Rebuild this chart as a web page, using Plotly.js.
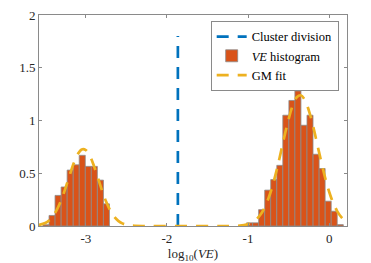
<!DOCTYPE html>
<html>
<head>
<meta charset="utf-8">
<script src="https://cdn.plot.ly/plotly-3.0.1.min.js"></script>
<style>html,body{margin:0;padding:0;background:#fff;}#chart{width:371px;height:263px;}</style>
</head>
<body>
<div id="chart"></div>
<script>
// Histogram bins (centers in log10(VE)) and densities
const binWidth = 0.0745;
const leftBinCenters = [-3.491, -3.416, -3.342, -3.267, -3.193, -3.118, -3.044, -2.969, -2.895, -2.820, -2.746];
const leftBinHeights = [0.012, 0.10, 0.29, 0.37, 0.53, 0.58, 0.67, 0.565, 0.565, 0.435, 0.21];
const rightBinCenters = [-0.981, -0.906, -0.832, -0.757, -0.683, -0.608, -0.534, -0.459, -0.385, -0.310, -0.236, -0.161, -0.087, -0.012, 0.062, 0.137];
const rightBinHeights = [0.03, 0.03, 0.155, 0.34, 0.44, 0.575, 1.05, 1.19, 1.28, 0.955, 1.05, 0.68, 0.545, 0.235, 0.14, 0.013];

// GM fit curve points
const gmX = [-3.58, -3.50, -3.45, -3.40, -3.35, -3.30, -3.25, -3.20, -3.15, -3.10, -3.05, -3.00, -2.95, -2.90, -2.85, -2.80, -2.75, -2.70, -2.65, -2.60, -2.55, -2.50, -2.45, -2.40, -2.30,
  -1.20, -1.10, -1.05, -1.00, -0.95, -0.90, -0.85, -0.80, -0.75, -0.70, -0.65, -0.60, -0.55, -0.50, -0.45, -0.40, -0.35, -0.30, -0.25, -0.20, -0.15, -0.10, -0.05, 0.00, 0.05, 0.10, 0.15, 0.20, 0.22];
const gmY = [0.009, 0.029, 0.055, 0.099, 0.164, 0.252, 0.360, 0.479, 0.592, 0.680, 0.726, 0.720, 0.665, 0.570, 0.455, 0.337, 0.232, 0.149, 0.088, 0.049, 0.025, 0.012, 0.005, 0.002, 0.0,
  0.0, 0.004, 0.009, 0.018, 0.034, 0.061, 0.104, 0.168, 0.258, 0.376, 0.520, 0.684, 0.854, 1.013, 1.141, 1.220, 1.239, 1.195, 1.094, 0.952, 0.786, 0.617, 0.459, 0.325, 0.218, 0.139, 0.084, 0.049, 0.038];

// Cluster division
const clusterX = [-1.865, -1.865];
const clusterY = [0, 1.8];

// Axis ticks
const xTickVals = [-3, -2, -1, 0];
const xTickText = ['-3', '-2', '-1', '0'];
const yTickVals = [0, 0.5, 1, 1.5, 2];
const yTickText = ['0', '0.5', '1', '1.5', '2'];

const serif = 'Liberation Serif';

const traces = [
  {
    type: 'bar',
    x: leftBinCenters.concat(rightBinCenters),
    y: leftBinHeights.concat(rightBinHeights),
    width: binWidth,
    marker: {color: '#D95319', line: {color: '#8c8c8c', width: 0.8}},
    name: '<i>VE</i> histogram',
    legendrank: 2
  },
  {
    type: 'scatter', mode: 'lines',
    x: clusterX, y: clusterY,
    line: {color: '#0072BD', width: 2.7, dash: '12px,9px'},
    name: 'Cluster division',
    legendrank: 1
  },
  {
    type: 'scatter', mode: 'lines',
    x: gmX, y: gmY,
    line: {color: '#EDB120', width: 2.7, dash: '12px,9px', shape: 'spline'},
    name: 'GM fit',
    legendrank: 3
  }
];

const axisCommon = {
  showgrid: false, zeroline: false,
  showline: true, linecolor: '#8a8a8a', linewidth: 1,
  mirror: 'ticks', ticks: 'inside', ticklen: 3, tickcolor: '#8a8a8a',
  tickfont: {family: serif, size: 13, color: '#262626'}
};

const layout = {
  width: 371, height: 263,
  margin: {l: 39, r: 24, t: 15, b: 37},
  paper_bgcolor: '#ffffff', plot_bgcolor: '#ffffff',
  font: {family: serif},
  showlegend: true,
  bargap: 0,
  xaxis: Object.assign({}, axisCommon, {
    range: [-3.577, 0.22],
    tickmode: 'array', tickvals: xTickVals, ticktext: xTickText,
    title: {text: 'log<sub>10</sub>(<i>VE</i>)', font: {family: serif, size: 13, color: '#262626'}, standoff: 4}
  }),
  yaxis: Object.assign({}, axisCommon, {
    range: [0, 2],
    tickmode: 'array', tickvals: yTickVals, ticktext: yTickText
  }),
  legend: {
    x: 0.973, y: 0.972, xanchor: 'right', yanchor: 'top',
    bgcolor: '#ffffff', bordercolor: '#8a8a8a', borderwidth: 1,
    font: {family: serif, size: 12.5, color: '#000'},
    tracegroupgap: 0, itemwidth: 30
  }
};

Plotly.newPlot('chart', traces, layout, {staticPlot: true, displayModeBar: false});
</script>
</body>
</html>
